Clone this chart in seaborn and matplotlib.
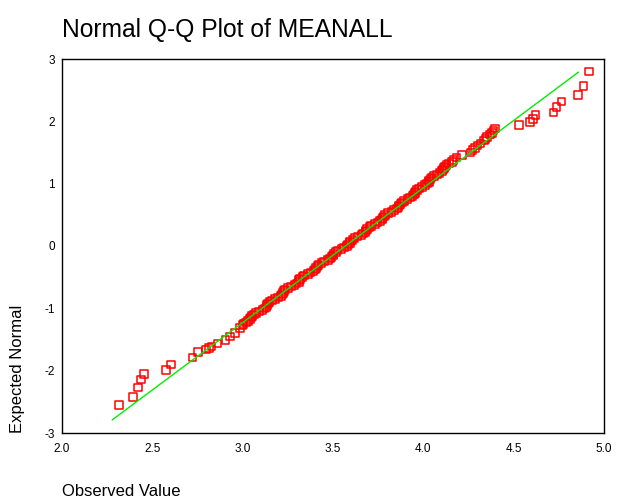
import matplotlib
matplotlib.use("Agg")
import matplotlib.pyplot as plt
import seaborn as sns
import pandas as pd

observed = [
    2.317, 2.393, 2.422, 2.437, 2.454, 2.574, 2.603, 2.723, 2.753, 2.797,
    2.814, 2.828, 2.860, 2.906, 2.930, 2.957, 2.985, 2.998,
    3.004, 3.018, 3.028, 3.042, 3.045, 3.050, 3.063, 3.073, 3.090, 3.110,
    3.120, 3.131, 3.134, 3.141, 3.148, 3.164, 3.178, 3.195, 3.211, 3.217,
    3.222, 3.230, 3.235, 3.252, 3.266, 3.287, 3.298, 3.311, 3.312, 3.318,
    3.331, 3.340, 3.362, 3.376, 3.393, 3.399, 3.405, 3.414, 3.420, 3.437,
    3.450, 3.472, 3.482, 3.492, 3.501, 3.503, 3.516, 3.525, 3.547, 3.560,
    3.578, 3.584, 3.593, 3.595, 3.609, 3.618, 3.636, 3.657, 3.666, 3.680,
    3.682, 3.688, 3.701, 3.710, 3.731, 3.746, 3.760, 3.772, 3.774, 3.783,
    3.789, 3.804, 3.824, 3.838, 3.853, 3.862, 3.866, 3.873, 3.881, 3.894,
    3.912, 3.926, 3.941, 3.948, 3.953, 3.956, 3.965, 3.976, 3.993, 4.009,
    4.021, 4.030, 4.033, 4.039, 4.046, 4.058, 4.075, 4.090, 4.104, 4.110,
    4.116, 4.120, 4.129, 4.142, 4.158,
    4.166, 4.184, 4.215, 4.262, 4.272, 4.287, 4.300, 4.317, 4.335, 4.345,
    4.354, 4.369, 4.381, 4.388, 4.396,
    4.531, 4.592, 4.607, 4.621, 4.720, 4.736, 4.765, 4.856, 4.887, 4.916,
]
expected = [
    -2.555, -2.427, -2.270, -2.140, -2.050, -1.990, -1.900, -1.790, -1.705, -1.660,
    -1.640, -1.615, -1.565, -1.510, -1.450, -1.400, -1.320, -1.270,
    -1.250, -1.225, -1.200, -1.175, -1.150, -1.125, -1.100, -1.075, -1.050, -1.025,
    -1.000, -0.975, -0.950, -0.925, -0.900, -0.875, -0.850, -0.825, -0.800, -0.775,
    -0.750, -0.725, -0.700, -0.675, -0.650, -0.625, -0.600, -0.575, -0.550, -0.525,
    -0.500, -0.475, -0.450, -0.425, -0.400, -0.375, -0.350, -0.325, -0.300, -0.275,
    -0.250, -0.225, -0.200, -0.175, -0.150, -0.125, -0.100, -0.075, -0.050, -0.025,
    0.000, 0.025, 0.050, 0.075, 0.100, 0.125, 0.150, 0.175, 0.200, 0.225,
    0.250, 0.275, 0.300, 0.325, 0.350, 0.375, 0.400, 0.425, 0.450, 0.475,
    0.500, 0.525, 0.550, 0.575, 0.600, 0.625, 0.650, 0.675, 0.700, 0.725,
    0.750, 0.775, 0.800, 0.825, 0.850, 0.875, 0.900, 0.925, 0.950, 0.975,
    1.000, 1.025, 1.050, 1.075, 1.100, 1.125, 1.150, 1.175, 1.200, 1.225,
    1.250, 1.275, 1.300, 1.325, 1.350,
    1.379, 1.420, 1.464, 1.502, 1.540, 1.576, 1.610, 1.647, 1.690, 1.720,
    1.753, 1.790, 1.817, 1.850, 1.888,
    1.944, 1.990, 2.035, 2.100, 2.140, 2.230, 2.320, 2.425, 2.565, 2.800,
]

# reference line (normal distribution with the sample mean / sd)
line_x = [2.278, 4.859]
line_y = [-2.79, 2.79]

x_ticks = [2.0, 2.5, 3.0, 3.5, 4.0, 4.5, 5.0]
x_tick_labels = ["2.0", "2.5", "3.0", "3.5", "4.0", "4.5", "5.0"]
y_ticks = [-3, -2, -1, 0, 1, 2, 3]

df = pd.DataFrame({"observed": observed, "expected": expected})

sns.set_theme(style="white")
plt.rcParams["font.family"] = ["Liberation Sans", "DejaVu Sans"]
plt.rcParams["axes.unicode_minus"] = False

fig = plt.figure(figsize=(6.18, 5.04), dpi=100)
ax = fig.add_axes([62 / 618, 1 - 433 / 504, 542 / 618, 374 / 504])

sns.lineplot(x=line_x, y=line_y, color="#00ee00", linewidth=1.0, ax=ax)
sns.scatterplot(data=df, x="observed", y="expected", marker="s", s=30,
                facecolors="none", edgecolor="#ff0000", linewidth=1.1, ax=ax)

ax.set_xlim(2.0, 5.0)
ax.set_ylim(-3, 3)
ax.set_xticks(x_ticks)
ax.set_xticklabels(x_tick_labels)
ax.set_yticks(y_ticks)

for side in ["left", "right", "top", "bottom"]:
    ax.spines[side].set_visible(True)
    ax.spines[side].set_color("black")
    ax.spines[side].set_linewidth(1.0)

ax.tick_params(axis="both", direction="out", length=2.2, width=2.2, color="black",
               labelsize=8.5, labelcolor="black")
ax.tick_params(axis="x", pad=5)
ax.tick_params(axis="y", pad=3)

ax.set_title("Normal Q-Q Plot of MEANALL", loc="left", fontsize=17.7, pad=16, color="black")
ax.set_xlabel("Observed Value", fontsize=12, loc="left", color="black")
ax.xaxis.set_label_coords(0.0, -0.136)
ax.set_ylabel("Expected Normal", fontsize=12, loc="bottom", color="black")
ax.yaxis.set_label_coords(-0.068, 0.0)

fig.savefig("out.png", dpi=100)
plt.close(fig)
